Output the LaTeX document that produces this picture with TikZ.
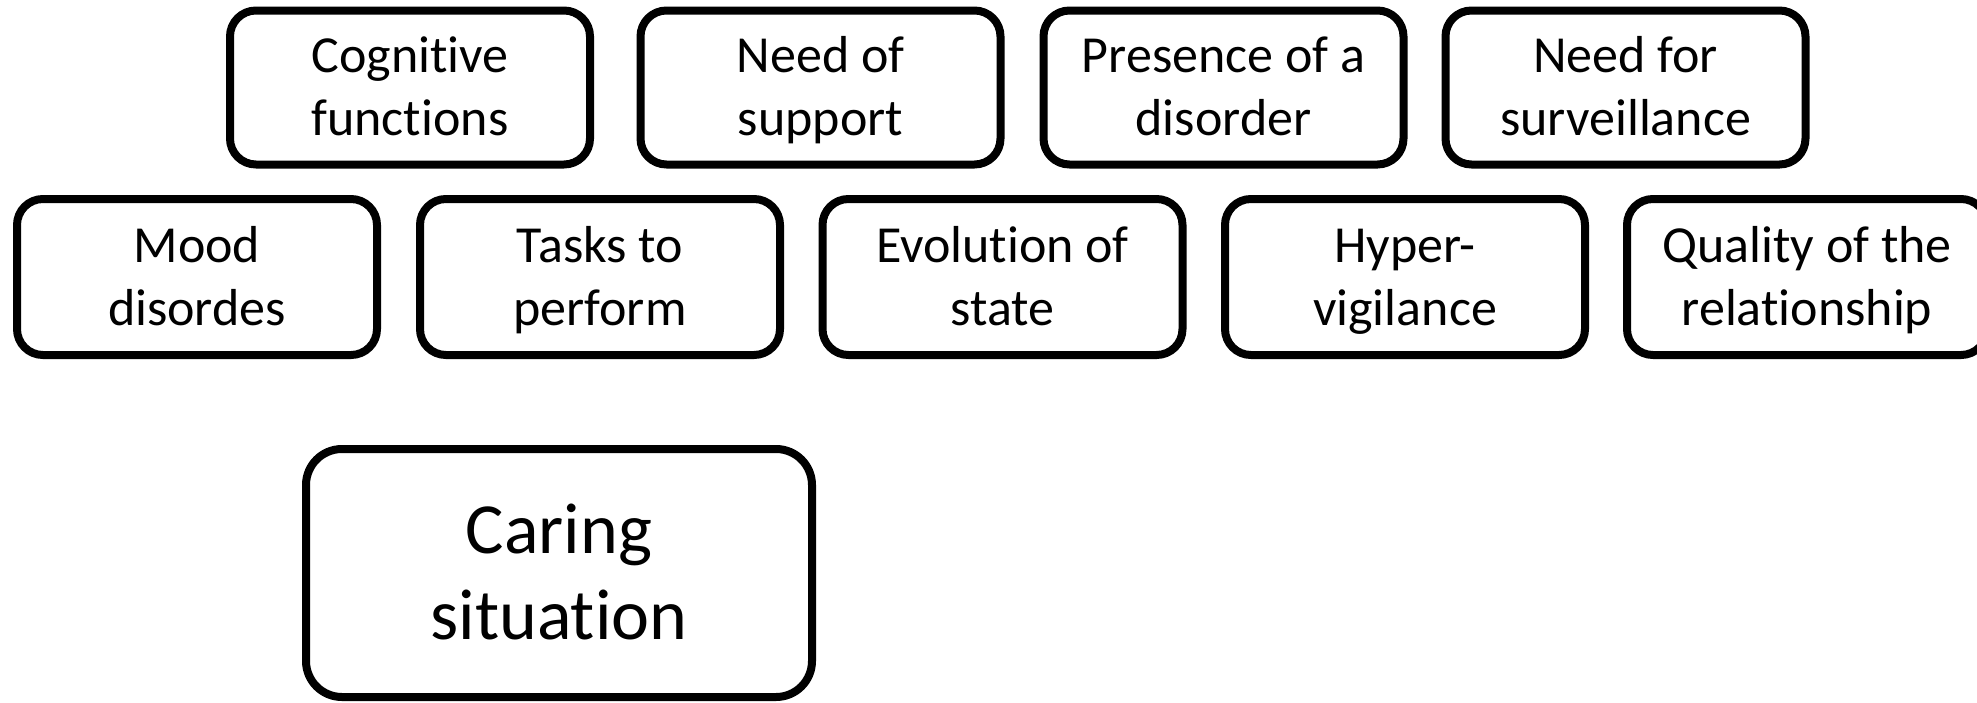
\documentclass[tikz,border=0pt]{standalone}
\usepackage{fontspec}
\setmainfont[Ligatures=NoCommon]{Carlito}
\newcommand\Ln[1]{\strut\raisebox{-2pt}[0pt][0pt]{#1}}
\newcommand\Lb[1]{\strut\raisebox{-3pt}[0pt][0pt]{#1}}
\begin{document}
\begin{tikzpicture}[x=0.5pt,y=-0.5pt,
  box/.style={draw, line width=4pt, rounded corners=13pt, align=center,
    minimum width=180pt, minimum height=77pt, inner sep=0pt,
    font=\fontsize{26}{31.5}\selectfont},
  bigbox/.style={draw, line width=4pt, rounded corners=18pt, align=center,
    minimum width=253pt, minimum height=124pt, inner sep=0pt,
    font=\fontsize{36}{43}\selectfont}]
\useasboundingbox (0,0) rectangle (1977,702);
% top row
\node[box] (cog) at (410,87.5) {\Ln{Cognitive}\\\Ln{functions}};
\node[box] (sup) at (820.5,87.5) {\Ln{Need of}\\\Ln{support}};
\node[box] (pres) at (1223.5,87.5) {\Ln{Presence of a}\\\Ln{disorder}};
\node[box] (surv) at (1625.5,87.5) {\Ln{Need for}\\\Ln{surveillance}};
% second row
\node[box, minimum height=78pt] (mood) at (197,277) {\Ln{Mood}\\\Ln{disordes}};
\node[box, minimum height=78pt] (task) at (600,277) {\Ln{Tasks to}\\\Ln{perform}};
\node[box, minimum height=78pt] (evo) at (1002.5,277) {\Ln{Evolution of}\\\Ln{state}};
\node[box, minimum height=78pt] (hyp) at (1405,277) {\Ln{Hyper-}\\\Ln{vigilance}};
\node[box, minimum height=78pt] (qual) at (1807,277) {\Ln{Quality of the}\\\Ln{relationship}};
% caring
\node[bigbox] (care) at (559,573) {\Lb{Caring}\\\Lb{situation}};
\end{tikzpicture}
\end{document}
